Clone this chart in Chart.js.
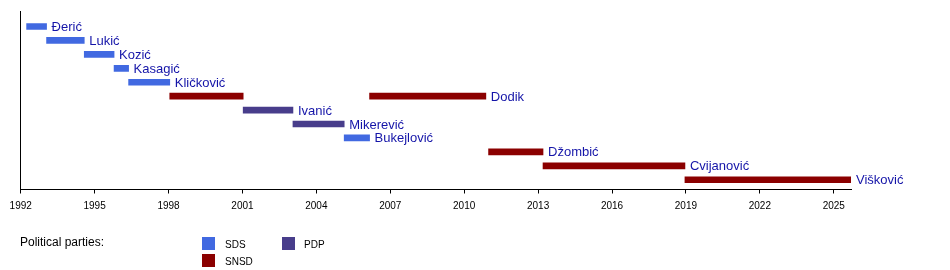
<!DOCTYPE html>
<html>
<head>
<meta charset="utf-8">
<script src="https://cdn.jsdelivr.net/npm/chart.js@4/dist/chart.umd.min.js"></script>
<style>
  html, body { margin: 0; padding: 0; background: #fff; }
  #wrap { position: relative; width: 950px; height: 270px; font-family: "Liberation Sans", Arial, Helvetica, sans-serif; }
  canvas { position: absolute; left: 0; top: 0; }
  .lg { position: absolute; color: #000; white-space: nowrap; }
  .sw { position: absolute; width: 13px; height: 13px; }
</style>
</head>
<body>
<div id="wrap">
  <canvas id="c" width="950" height="270"></canvas>
  <div class="lg" style="left:20px; top:235px; font-size:12px; line-height:14px;">Political parties:</div>
  <div class="sw" style="left:202px; top:237px; background:#4169e1;"></div>
  <div class="lg" style="left:225px; top:239px; font-size:10px; line-height:12px;">SDS</div>
  <div class="sw" style="left:202px; top:254px; background:#8b0000;"></div>
  <div class="lg" style="left:225px; top:256px; font-size:10px; line-height:12px;">SNSD</div>
  <div class="sw" style="left:282px; top:237px; background:#483d8b;"></div>
  <div class="lg" style="left:304px; top:239px; font-size:10px; line-height:12px;">PDP</div>
</div>
<script>
// ---- data ----
const rows = ['Đerić', 'Lukić', 'Kozić', 'Kasagić', 'Kličković', 'Dodik', 'Ivanić',
              'Mikerević', 'Bukejlović', 'Džombić', 'Cvijanović', 'Višković'];
const termRow   = ['Đerić', 'Lukić', 'Kozić', 'Kasagić', 'Kličković', 'Dodik', 'Ivanić',
                   'Mikerević', 'Bukejlović', 'Dodik', 'Džombić', 'Cvijanović', 'Višković'];
const termStart = [1992.24, 1993.05, 1994.58, 1995.79, 1996.38, 1998.05, 2001.03,
                   2003.05, 2005.13, 2006.16, 2010.99, 2013.20, 2018.96];
const termEnd   = [1993.05, 1994.58, 1995.79, 1996.38, 1998.05, 2001.03, 2003.05,
                   2005.13, 2006.16, 2010.88, 2013.20, 2018.96, 2025.70];
const termParty = ['SDS', 'SDS', 'SDS', 'SDS', 'SDS', 'SNSD', 'PDP',
                   'PDP', 'SDS', 'SNSD', 'SNSD', 'SNSD', 'SNSD'];
const parties = ['SDS', 'SNSD', 'PDP'];
const partyColors = ['#4169e1', '#8b0000', '#483d8b'];
const tickYears = [1992, 1995, 1998, 2001, 2004, 2007, 2010, 2013, 2016, 2019, 2022, 2025];
const axisMin = 1992, axisMax = 2025.7;

// ---- build datasets ----
const datasets = parties.map((p, pi) => ({
  label: p,
  backgroundColor: partyColors[pi],
  borderWidth: 0,
  barThickness: 6,
  grouped: false,
  data: termRow.map((r, i) => termParty[i] === p ? { x: [termStart[i], termEnd[i]], y: rows.indexOf(r) } : null)
               .filter(d => d !== null)
}));

const FONT = '"Liberation Sans", Arial, Helvetica, sans-serif';

const namePlugin = {
  id: 'names',
  afterDatasetsDraw(chart) {
    const ctx = chart.ctx, xs = chart.scales.x, ys = chart.scales.y;
    ctx.save();
    ctx.font = '13px ' + FONT;
    ctx.fillStyle = '#1414a8';
    ctx.textAlign = 'left';
    ctx.textBaseline = 'alphabetic';
    rows.forEach((name, ri) => {
      let end = -Infinity;
      termRow.forEach((r, i) => { if (r === name && termEnd[i] > end) end = termEnd[i]; });
      const x = xs.getPixelForValue(end) + 5;
      const y = ys.getPixelForValue(ri) + 4.5;
      ctx.fillText(name, x, y);
    });
    ctx.restore();
  }
};

new Chart(document.getElementById('c'), {
  type: 'bar',
  data: { datasets },
  plugins: [namePlugin],
  options: {
    indexAxis: 'y',
    responsive: false,
    animation: false,
    events: [],
    layout: { padding: { left: 20.7, right: 99, top: 11, bottom: 0 } },
    plugins: { legend: { display: false }, tooltip: { enabled: false } },
    scales: {
      x: {
        type: 'linear',
        min: axisMin,
        max: axisMax,
        afterBuildTicks: (s) => { s.ticks = tickYears.map(v => ({ value: v })); },
        afterFit: (s) => { s.height = 80.5; },
        grid: { drawOnChartArea: false, drawTicks: true, tickLength: 4, color: '#000' },
        border: { display: true, color: '#000', width: 1 },
        ticks: {
          padding: 7,
          color: '#000',
          font: { family: FONT, size: 10 },
          maxRotation: 0,
          autoSkip: false,
          callback: (v) => String(v)
        }
      },
      y: {
        type: 'linear',
        reverse: true,
        offset: false,
        min: -1.113,
        max: 11.70,
        afterFit: (s) => { s.width = 0; },
        grid: { display: true, drawOnChartArea: false, drawTicks: false },
        border: { display: true, color: '#000', width: 1 },
        ticks: { display: false }
      }
    }
  }
});
</script>
</body>
</html>
